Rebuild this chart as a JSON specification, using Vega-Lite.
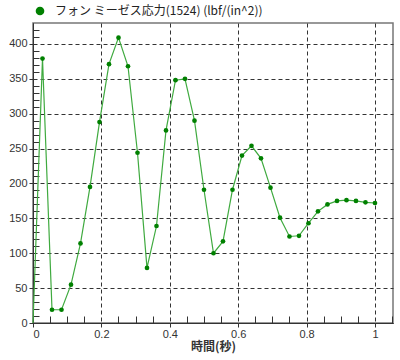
{
  "$schema": "https://vega.github.io/schema/vega-lite/v6.json",
  "width": 360,
  "height": 300,
  "autosize": {"type": "none"},
  "padding": {"left": 33, "top": 23, "right": 7, "bottom": 37},
  "background": "white",
  "config": {
    "view": {"stroke": "#777", "strokeWidth": 1.5},
    "axis": {
      "labelFont": "Liberation Sans",
      "labelFontSize": 11,
      "labelColor": "#333",
      "tickColor": "#333",
      "domainColor": "#333",
      "gridColor": "#333",
      "gridDash": [4, 3],
      "gridWidth": 1
    }
  },
  "data": {
    "values": [
      {"t": 0.0, "v": 0},
      {"t": 0.02778, "v": 379},
      {"t": 0.05556, "v": 19},
      {"t": 0.08333, "v": 19},
      {"t": 0.11111, "v": 55},
      {"t": 0.13889, "v": 114},
      {"t": 0.16667, "v": 195},
      {"t": 0.19444, "v": 288},
      {"t": 0.22222, "v": 371},
      {"t": 0.25, "v": 409},
      {"t": 0.27778, "v": 368},
      {"t": 0.30556, "v": 244},
      {"t": 0.33333, "v": 79},
      {"t": 0.36111, "v": 139},
      {"t": 0.38889, "v": 276},
      {"t": 0.41667, "v": 348},
      {"t": 0.44444, "v": 350},
      {"t": 0.47222, "v": 290},
      {"t": 0.5, "v": 191},
      {"t": 0.52778, "v": 100},
      {"t": 0.55556, "v": 117},
      {"t": 0.58333, "v": 191},
      {"t": 0.61111, "v": 240},
      {"t": 0.63889, "v": 254},
      {"t": 0.66667, "v": 236},
      {"t": 0.69444, "v": 194},
      {"t": 0.72222, "v": 151},
      {"t": 0.75, "v": 124},
      {"t": 0.77778, "v": 125},
      {"t": 0.80556, "v": 143},
      {"t": 0.83333, "v": 160},
      {"t": 0.86111, "v": 170},
      {"t": 0.88889, "v": 175},
      {"t": 0.91667, "v": 176},
      {"t": 0.94444, "v": 175},
      {"t": 0.97222, "v": 173},
      {"t": 1.0, "v": 172}
    ]
  },
  "layer": [
    {
      "mark": {"type": "line", "color": "#3faa3f", "strokeWidth": 1.2},
      "encoding": {
        "x": {
          "field": "t", "type": "quantitative",
          "scale": {"domain": [0, 1.0527], "nice": false, "zero": false},
          "axis": {
            "values": [0, 0.2, 0.4, 0.6, 0.8, 1],
            "format": "~g",
            "grid": true,
            "tickSize": 4,
            "labelPadding": 1,
            "title": "時間(秒)",
            "titleFont": "Noto Sans CJK JP",
            "titleFontSize": 12,
            "titleFontWeight": "bold",
            "titleColor": "#333",
            "titlePadding": 2
          }
        },
        "y": {
          "field": "v", "type": "quantitative",
          "scale": {"domain": [0, 430], "nice": false},
          "axis": {
            "values": [0, 50, 100, 150, 200, 250, 300, 350, 400],
            "grid": true,
            "tickSize": 4,
            "labelPadding": 2,
            "title": null
          }
        }
      }
    },
    {
      "transform": [{"filter": "datum.t > 0"}],
      "mark": {"type": "point", "filled": true, "opacity": 1, "size": 22},
      "encoding": {
        "x": {
          "field": "t", "type": "quantitative",
          "scale": {"domain": [0, 1.0527], "nice": false, "zero": false},
          "axis": {
            "orient": "bottom",
            "values": [0.05, 0.1, 0.15, 0.25, 0.3, 0.35, 0.45, 0.5, 0.55, 0.65, 0.7, 0.75, 0.85, 0.9, 0.95, 1.05],
            "labels": false,
            "domain": false,
            "grid": false,
            "tickSize": -7,
            "title": null
          }
        },
        "y": {
          "field": "v", "type": "quantitative",
          "scale": {"domain": [0, 430], "nice": false},
          "axis": {
            "orient": "left",
            "values": [10, 20, 30, 40, 60, 70, 80, 90, 110, 120, 130, 140, 160, 170, 180, 190, 210, 220, 230, 240, 260, 270, 280, 290, 310, 320, 330, 340, 360, 370, 380, 390, 410, 420],
            "labels": false,
            "domain": false,
            "grid": false,
            "tickSize": -6,
            "title": null
          }
        },
        "color": {
          "datum": "フォン ミーゼス応力(1524) (lbf/(in^2))",
          "type": "nominal",
          "scale": {"range": ["#008000"]},
          "legend": {
            "orient": "none",
            "legendX": 1,
            "legendY": -18,
            "title": null,
            "padding": 0,
            "symbolType": "circle",
            "symbolSize": 75,
            "symbolOffset": 0,
            "labelOffset": 9,
            "labelFont": "Noto Sans CJK JP",
            "labelFontSize": 12,
            "labelColor": "#222",
            "labelLimit": 400
          }
        }
      }
    }
  ],
  "resolve": {"axis": {"x": "independent", "y": "independent"}}
}
